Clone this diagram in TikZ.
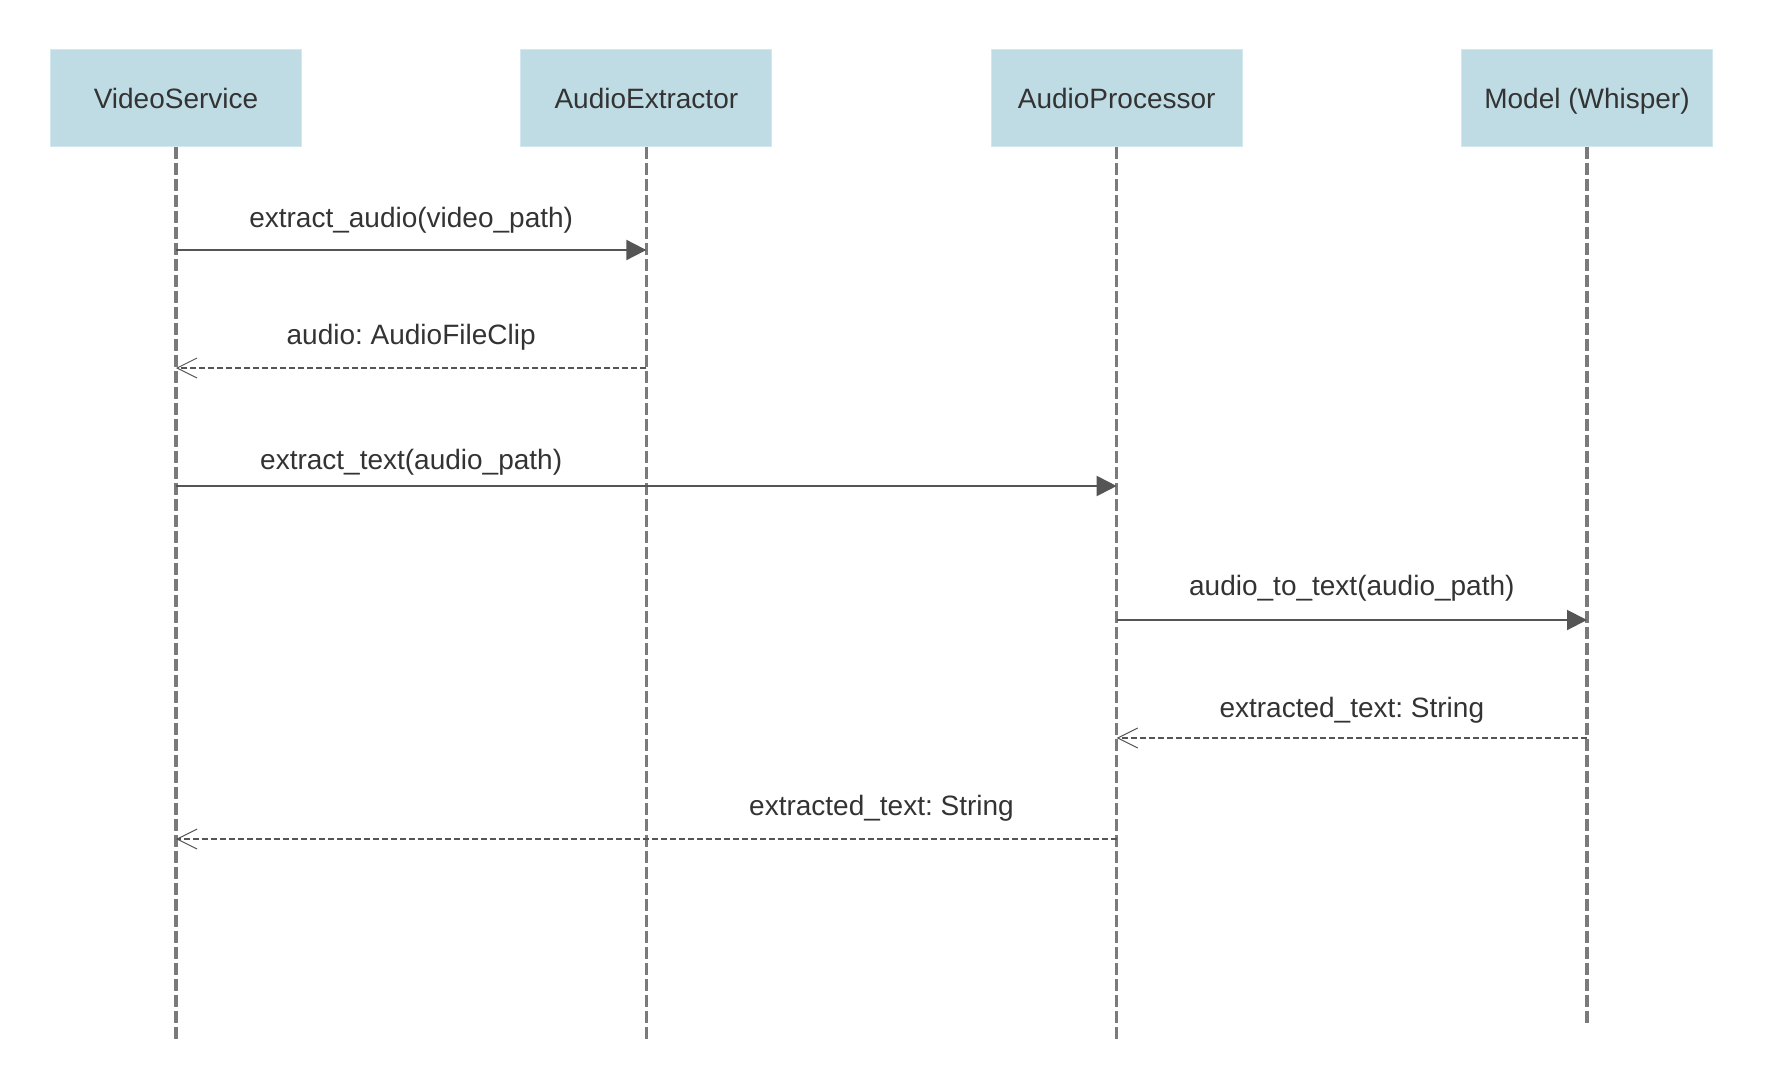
\documentclass[tikz,border=0pt]{standalone}
\usepackage{fontspec}
\setmainfont{Liberation Sans}
\usepackage{tikz}
\usetikzlibrary{arrows.meta}
\tikzset{>={Triangle[width=10pt,length=10pt]}}
\definecolor{actorblue}{HTML}{BFDCE5}
\definecolor{actoredge}{HTML}{D3E8EE}
\definecolor{lifegray}{HTML}{7A7A7A}
\definecolor{msggray}{HTML}{555555}
\definecolor{textgray}{HTML}{333333}
\frenchspacing

\begin{document}
\begin{tikzpicture}[x=0.5pt, y=-0.5pt,
  actor/.style={draw=actoredge, fill=actorblue, minimum width=125.5pt,
    minimum height=48.5pt, text=textgray, text height=10pt, text depth=0pt},
  lifeline/.style={lifegray, line width=1.7pt, dash pattern=on 6pt off 2pt},
  call/.style={->, msggray, line width=1pt},
  reply/.style={-{Straight Barb[length=10pt,width=10pt,line width=0.5pt]},
    msggray, line width=0.75pt, dash pattern=on 3pt off 1.5pt},
  msg/.style={anchor=base, text=textgray}]

  \newcommand\X{470.33};
  \newcommand\Xo{176};

  \useasboundingbox (0,0) rectangle (1766,1076);
  \fontsize{14pt}{17pt}\selectfont

  % lifelines
  \coordinate (vs end) at (\Xo+0*\X, 1040);
  \coordinate (ae end) at (\Xo+1*\X, 1040);
  \coordinate (ap end) at (\Xo+2*\X, 1040);
  \coordinate (mw end) at (\Xo+3*\X, 1023);

  \draw[lifeline] (\Xo+0*\X, 147) -- (vs end);
  \draw[lifeline] (\Xo+1*\X, 147) -- (ae end);
  \draw[lifeline] (\Xo+2*\X, 147) -- (ap end);
  \draw[lifeline] (\Xo+3*\X, 147) -- (mw end);

  \node[actor] (vs) at (\Xo+0*\X, 98) {VideoService};
  \node[actor] (ae) at (\Xo+1*\X, 98) {AudioExtractor};
  \node[actor] (ap) at (\Xo+2*\X, 98) {AudioProcessor};
  \node[actor] (mw) at (\Xo+3*\X, 98) {Model (Whisper)};

  % messages
  \coordinate (vs1) at (\Xo+0*\X, 250);
  \coordinate (ae1) at (\Xo+1*\X, 250);
  \draw[call] (vs1) -- (ae1);
  \node[msg] (t1) at (\Xo+0.5*\X, 227) {extract\_audio(video\_path)};

  \coordinate (ae2) at (\Xo+1*\X, 368);
  \coordinate (vs2) at (\Xo+0*\X, 368);
  \draw[reply] (ae2) -- (vs2);
  \node[msg] (t2) at (\Xo+0.5*\X, 344) {audio: AudioFileClip};

  \coordinate (vs3) at (\Xo+0*\X, 486);
  \coordinate (ap3) at (\Xo+2*\X, 486);
  \draw[call] (vs3) -- (ap3);
  \node[msg] (t3) at (\Xo+0.5*\X, 469) {extract\_text(audio\_path)};

  \coordinate (ap4) at (\Xo+2*\X, 620);
  \coordinate (mw4) at (\Xo+3*\X, 620);
  \draw[call] (ap4) -- (mw4);
  \node[msg] (t4) at (\Xo+2.5*\X, 595) {audio\_to\_text(audio\_path)};

  \coordinate (mw5) at (\Xo+3*\X, 738);
  \coordinate (ap5) at (\Xo+2*\X, 738);
  \draw[reply] (mw5) -- (ap5);
  \node[msg] (t5) at (\Xo+2.5*\X, 717) {extracted\_text: String};

  \coordinate (ap6) at (\Xo+2*\X, 839);
  \coordinate (vs6) at (\Xo+0*\X, 839);
  \draw[reply] (ap6) -- (vs6);
  \node[msg] (t6) at (\Xo+1.5*\X, 815) {extracted\_text: String};

\end{tikzpicture}
\end{document}
